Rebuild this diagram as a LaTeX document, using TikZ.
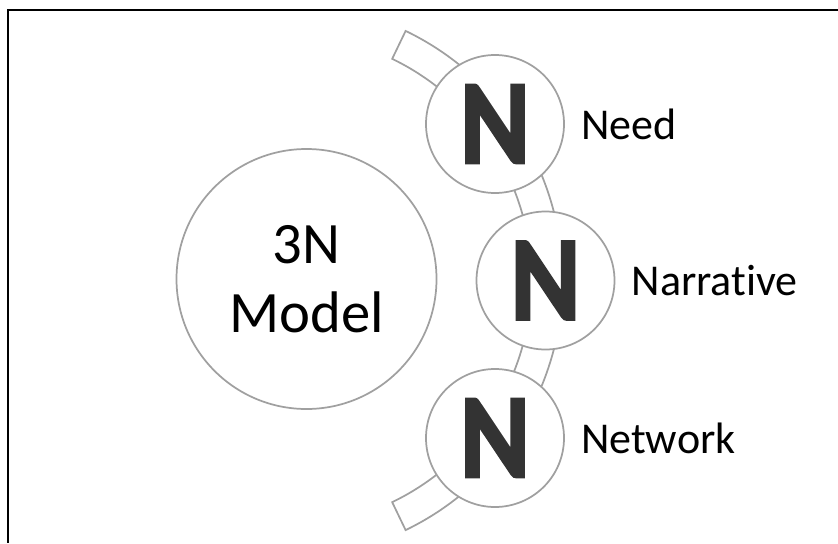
\documentclass[tikz,border=0pt]{standalone}
\usepackage{fontspec}
\setmainfont{Carlito}[Ligatures=NoCommon, BoldFont={Carlito Bold}]
\newfontfamily\heavyN{Carlito Bold}[FakeBold=2.5]
\usepackage{tikz}
\usetikzlibrary{positioning}
\definecolor{RimGray}{RGB}{160,160,160}
\definecolor{GlyphGray}{RGB}{51,51,51}

\begin{document}
\begin{tikzpicture}[x=0.75pt, y=-0.75pt,
          ncirc/.style={circle, draw=RimGray, line width=1.3pt, fill=white,
                        minimum size=103.5pt, inner sep=0pt, text=GlyphGray,
                        font=\heavyN\fontsize{90}{90}\selectfont},
          nlab/.style={inner sep=0pt, font=\fontsize{33}{40}\selectfont},
          band/.style={draw=RimGray, line width=1.3pt, fill=white}
        ]
        \useasboundingbox (0,0) rectangle (838,543);

        % Frame (top and left edge)
        \draw[line width=1.1pt] (838,10) -- (8,10) -- (8,543);

        % Curved band behind the three N's
        \coordinate (arcc) at (285.5,280.5);
        \draw[band] (arcc) ++(-64.3:277)
              arc[start angle=-64.3, end angle=64.3, radius=277]
              -- ++(244.3:31)
              arc[start angle=64.3, end angle=-64.3, radius=246] -- cycle;

        % Model circle
        \node[circle, draw=RimGray, line width=1.3pt, fill=white,
              minimum size=195pt, align=center,
              font=\fontsize{44}{52}\selectfont] (model) at (306.5,279)
              {3N\\Model};

        % The three N's
        \foreach \nm/\x/\y/\txt in {need/495/124/Need,
                                     narr/545.5/280.5/Narrative,
                                     netw/495/438/Network} {
          \node[ncirc] (\nm) at (\x,\y) {\raisebox{-4pt}{\scalebox{0.88}[1]{N}}};
          \node[nlab, right=12pt of \nm] (\nm lab) {\txt};
        }
      \end{tikzpicture}
\end{document}
